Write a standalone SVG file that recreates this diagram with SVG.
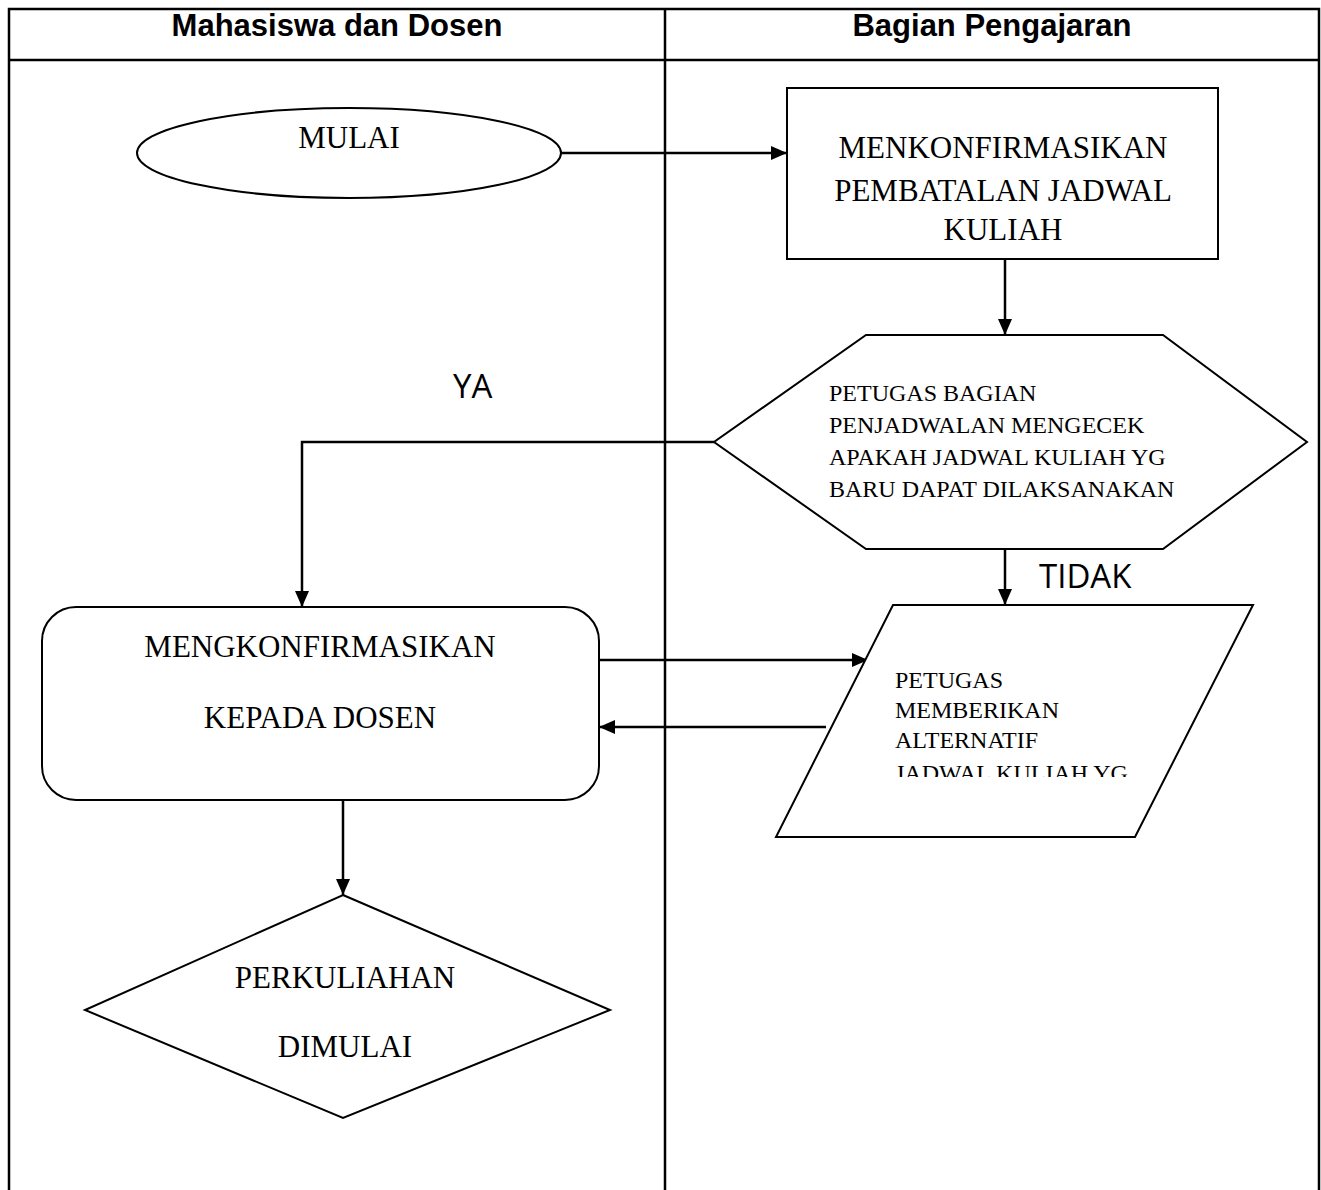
<svg xmlns="http://www.w3.org/2000/svg" width="1321" height="1190" viewBox="0 0 1321 1190">
<style>
.lane{fill:none;stroke:#000;stroke-width:2.5}
.shape{fill:#fff;stroke:#000;stroke-width:2}
.conn{fill:none;stroke:#000;stroke-width:2.5}
.hdr{font-family:"Liberation Sans",Arial,sans-serif;font-weight:bold;font-size:31px;text-anchor:middle}
.big{font-family:"Liberation Serif","Times New Roman",serif;font-size:31px;text-anchor:middle}
.small{font-family:"Liberation Serif","Times New Roman",serif;font-size:24px}
.lbl{font-family:"Open Sans",sans-serif;font-size:33px}
</style>
<defs>
<marker id="arrh" markerWidth="16" markerHeight="14" refX="16" refY="7" orient="auto" markerUnits="userSpaceOnUse" viewBox="0 0 16 14">
<path d="M0,0 L16,7 L0,14 Z" fill="#000"/>
</marker>
<clipPath id="pclip"><rect x="770" y="600" width="500" height="177"/></clipPath>
</defs>
<rect width="1321" height="1190" fill="#fff"/>
<g id="lanes">
<path class="lane" d="M9,1190 V9 H1319 V1190 M9,60 H1319 M665,9 V1190"/>
<text class="hdr" x="337" y="36">Mahasiswa dan Dosen</text>
<text class="hdr" x="992" y="36">Bagian Pengajaran</text>
</g>
<g id="connectors">
<path class="conn" d="M561,153 H787" marker-end="url(#arrh)"/>
<path class="conn" d="M1005,259 V335" marker-end="url(#arrh)"/>
<path class="conn" d="M714,442 H302 V607" marker-end="url(#arrh)"/>
<path class="conn" d="M1005,549 V605" marker-end="url(#arrh)"/>
<path class="conn" d="M599,660 H868" marker-end="url(#arrh)"/>
<path class="conn" d="M826,727 H599" marker-end="url(#arrh)"/>
<path class="conn" d="M343,800 V895" marker-end="url(#arrh)"/>
<text class="lbl" x="453" y="398">YA</text>
<text class="lbl" x="1039" y="588">TIDAK</text>
</g>
<g id="mulai">
<ellipse class="shape" cx="349" cy="153" rx="212" ry="45"/>
<text class="big" x="349" y="148">MULAI</text>
</g>
<g id="konfirmasi-pembatalan">
<rect class="shape" x="787" y="88" width="431" height="171"/>
<text class="big" x="1003" y="158">MENKONFIRMASIKAN</text>
<text class="big" x="1003" y="201">PEMBATALAN JADWAL</text>
<text class="big" x="1003" y="240">KULIAH</text>
</g>
<g id="cek-jadwal">
<polygon class="shape" points="866,335 1163,335 1307,442 1163,549 866,549 714,442"/>
<text class="small" x="829" y="401">PETUGAS BAGIAN</text>
<text class="small" x="829" y="433">PENJADWALAN MENGECEK</text>
<text class="small" x="829" y="465">APAKAH JADWAL KULIAH YG</text>
<text class="small" x="829" y="497">BARU DAPAT DILAKSANAKAN</text>
</g>
<g id="alternatif">
<polygon class="shape" points="893,605 1253,605 1135,837 776,837"/>
<g clip-path="url(#pclip)">
<text class="small" x="895" y="688">PETUGAS</text>
<text class="small" x="895" y="718">MEMBERIKAN</text>
<text class="small" x="895" y="748">ALTERNATIF</text>
<text class="small" x="895" y="781">JADWAL KULIAH YG</text>
</g>
</g>
<g id="konfirmasi-dosen">
<rect class="shape" x="42" y="607" width="557" height="193" rx="34" ry="34"/>
<text class="big" x="320" y="657">MENGKONFIRMASIKAN</text>
<text class="big" x="320" y="728">KEPADA DOSEN</text>
</g>
<g id="perkuliahan">
<polygon class="shape" points="343,895 610,1010 343,1118 85,1010"/>
<text class="big" x="345" y="988">PERKULIAHAN</text>
<text class="big" x="345" y="1057">DIMULAI</text>
</g>
</svg>
